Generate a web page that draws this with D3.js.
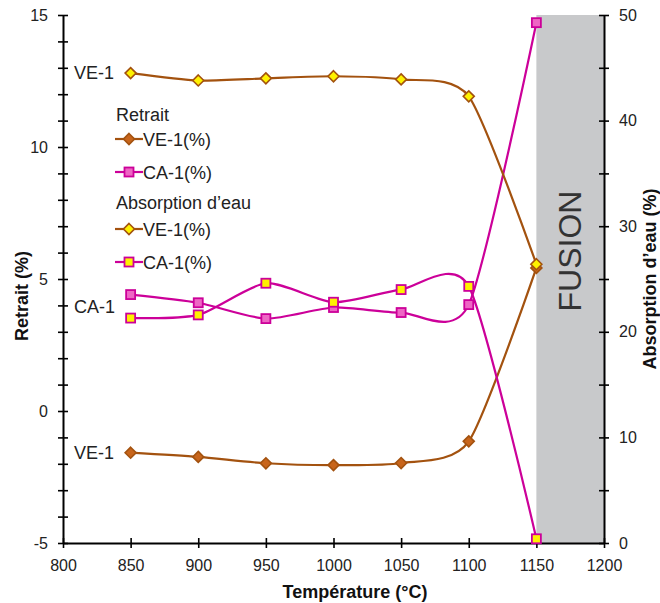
<!DOCTYPE html>
<html><head><meta charset="utf-8">
<script src="https://cdn.jsdelivr.net/npm/d3@7"></script>
<style>body{margin:0;background:#fff}svg{display:block;font-family:"Liberation Sans",Arial,sans-serif}</style>
</head><body><svg id="c" width="660" height="603"></svg>
<script>
const temps = [850, 900, 950, 1000, 1050, 1100, 1150];
const retraitVE1 = [-1.58, -1.74, -1.98, -2.05, -1.97, -1.15, 5.42];
const retraitCA1 = [4.41, 4.10, 3.50, 3.92, 3.73, 4.03, 14.71];
const absVE1 = [44.5, 43.8, 44.0, 44.2, 43.9, 42.3, 26.4];
const absCA1 = [21.3, 21.6, 24.6, 22.8, 24.0, 24.3, 0.4];
const xTicks = [800, 850, 900, 950, 1000, 1050, 1100, 1150, 1200];
const leftTicks = [-5, 0, 5, 10, 15];
const rightTicks = [0, 10, 20, 30, 40, 50];
const fusionRange = [1150, 1200];

const BROWN = "#A3520F", MAG = "#CC0099", PINK = "#EE66C4", ORANGE = "#C8651B", YEL = "#FFF200";
const svg = d3.select("#c");
const x = d3.scaleLinear().domain([800, 1200]).range([63, 604]);
const yL = d3.scaleLinear().domain([-5, 15]).range([543, 15]);
const yR = d3.scaleLinear().domain([0, 50]).range([543, 15]);

// fusion band
svg.append("rect").attr("x", x(fusionRange[0])).attr("y", yR(50))
  .attr("width", x(fusionRange[1]) - x(fusionRange[0])).attr("height", yR(0) - yR(50))
  .attr("fill", "#C8C9CB");
svg.append("text").attr("transform", `translate(${(x(1150)+x(1200))/2 + 11},251) rotate(-90)`)
  .attr("text-anchor", "middle").attr("font-size", 32).attr("fill", "#333").text("FUSION");

const tc = "#222";
function styleAxis(g){ g.select(".domain").attr("stroke","#000").attr("stroke-width",2);
  g.selectAll(".tick line").attr("stroke","#000").attr("stroke-width",1.6);
  g.selectAll(".tick text").attr("font-size",16).attr("fill",tc).attr("font-family","Liberation Sans, Arial, sans-serif"); }

const gx = svg.append("g").attr("transform", `translate(0,${yL(-5)})`)
  .call(d3.axisBottom(x).tickValues(xTicks).tickSize(5).tickSizeOuter(0).tickPadding(12).tickFormat(d3.format("d")));
styleAxis(gx);
gx.selectAll(".tick line").attr("y1", -5);

const gl = svg.append("g").attr("transform", `translate(${x(800)},0)`)
  .call(d3.axisLeft(yL).tickValues(d3.range(-5, 16, 1)).tickSize(5).tickSizeOuter(0).tickPadding(10)
    .tickFormat(d => leftTicks.includes(d) ? d : ""));
styleAxis(gl);
gl.selectAll(".tick line").attr("x1", 5);

const gr = svg.append("g").attr("transform", `translate(${x(1200)},0)`)
  .call(d3.axisRight(yR).tickValues(d3.range(0, 51, 5)).tickSize(5).tickSizeOuter(0).tickPadding(10)
    .tickFormat(d => rightTicks.includes(d) ? d : ""));
styleAxis(gr);
gr.selectAll(".tick line").attr("x1", -5);

svg.append("text").attr("x", 355).attr("y", 598).attr("text-anchor","middle").attr("font-weight","bold")
  .attr("font-size",18).attr("fill","#111").text("Température (°C)");
svg.append("text").attr("transform","translate(28,296) rotate(-90)").attr("text-anchor","middle").attr("font-weight","bold")
  .attr("font-size",18).attr("fill","#111").text("Retrait (%)");
svg.append("text").attr("transform","translate(656,279) rotate(-90)").attr("text-anchor","middle").attr("font-weight","bold")
  .attr("font-size",18).attr("fill","#111").text("Absorption d’eau (%)");

const curve = d3.curveCardinal.tension(0.3);
function series(vals, yS, stroke, fill, shape){
  const pts = temps.map((t,i)=>[x(t), yS(vals[i])]);
  svg.append("path").attr("d", d3.line().curve(curve)(pts)).attr("fill","none").attr("stroke",stroke).attr("stroke-width",2.2);
  pts.forEach(p => marker(p[0], p[1], stroke, fill, shape));
}
function marker(cx, cy, stroke, fill, shape){
  if (shape === "diamond") {
    const r = 5.5;
    svg.append("path").attr("d", `M${cx},${cy-r}L${cx+r},${cy}L${cx},${cy+r}L${cx-r},${cy}Z`)
      .attr("fill", fill).attr("stroke", stroke).attr("stroke-width", 1.6);
  } else {
    const s = 9;
    svg.append("rect").attr("x", cx - s/2).attr("y", cy - s/2).attr("width", s).attr("height", s)
      .attr("fill", fill).attr("stroke", stroke).attr("stroke-width", 1.8);
  }
}
series(retraitVE1, yL, BROWN, ORANGE, "diamond");
series(retraitCA1, yL, MAG, PINK, "square");
series(absVE1, yR, BROWN, YEL, "diamond");
series(absCA1, yR, MAG, YEL, "square");

const ann = [["VE-1", 72.7], ["CA-1", 307], ["VE-1", 453]];
ann.forEach(a => svg.append("text").attr("x", 74).attr("y", a[1] + 6).attr("font-size", 18).attr("fill", tc).text(a[0]));

const legendItems = [
  {type:"title", text:"Retrait", y:115},
  {type:"item", text:"VE-1(%)", y:139, stroke:BROWN, fill:ORANGE, shape:"diamond"},
  {type:"item", text:"CA-1(%)", y:172, stroke:MAG, fill:PINK, shape:"square"},
  {type:"title", text:"Absorption d’eau", y:203},
  {type:"item", text:"VE-1(%)", y:229, stroke:BROWN, fill:YEL, shape:"diamond"},
  {type:"item", text:"CA-1(%)", y:262, stroke:MAG, fill:YEL, shape:"square"}
];
legendItems.forEach(it => {
  if (it.type === "title") {
    svg.append("text").attr("x",116).attr("y",it.y+6).attr("font-size",18).attr("fill",tc).text(it.text);
  } else {
    svg.append("line").attr("x1",115).attr("x2",143).attr("y1",it.y).attr("y2",it.y).attr("stroke",it.stroke).attr("stroke-width",2.2);
    marker(129, it.y, it.stroke, it.fill, it.shape);
    svg.append("text").attr("x",143).attr("y",it.y+6.5).attr("font-size",18).attr("fill",tc).text(it.text);
  }
});
</script></body></html>
